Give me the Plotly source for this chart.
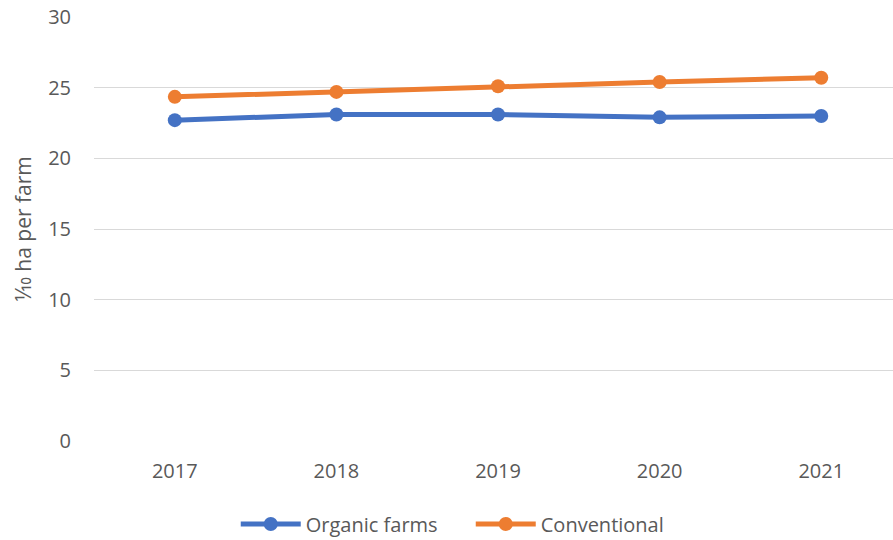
import plotly.graph_objects as go

years = ["2017", "2018", "2019", "2020", "2021"]
organic = [22.7, 23.1, 23.1, 22.9, 23.0]
conventional = [24.35, 24.7, 25.1, 25.4, 25.7]
y_ticks = [0, 5, 10, 15, 20, 25, 30]

fig = go.Figure()
fig.add_trace(go.Scatter(x=years, y=organic, name="Organic farms", mode="lines+markers",
                         line=dict(color="#4472C4", width=5), marker=dict(size=14, color="#4472C4")))
fig.add_trace(go.Scatter(x=years, y=conventional, name="Conventional", mode="lines+markers",
                         line=dict(color="#ED7D31", width=5), marker=dict(size=14, color="#ED7D31")))

font = dict(family="Open Sans, Liberation Sans, sans-serif", size=20, color="#595959")
fig.update_layout(
    width=893, height=540,
    margin=dict(l=94, r=0, t=17, b=99, autoexpand=False),
    plot_bgcolor="white", paper_bgcolor="white",
    font=font,
    showlegend=True,
    legend=dict(orientation="h", xref="container", yref="container",
                x=0.264, xanchor="left", y=0.0296, yanchor="middle",
                font=dict(size=20, color="#595959"), itemwidth=60, tracegroupgap=0,
                entrywidth=160, entrywidthmode="pixels"),
    xaxis=dict(type="category", range=[-0.5, 4.444], showgrid=False, showline=False,
               ticks="outside", ticklen=12, tickcolor="rgba(0,0,0,0)", zeroline=False),
    yaxis=dict(range=[0, 30], tickvals=y_ticks, showgrid=True, gridcolor="#d9d9d9", gridwidth=1,
               zeroline=False, showline=False, ticks="outside", ticklen=18, tickcolor="rgba(0,0,0,0)",
               title=dict(text="1⁄10 ha per farm", standoff=10, font=dict(size=21, color="#595959"))),
)
fig.write_html("out.html")
